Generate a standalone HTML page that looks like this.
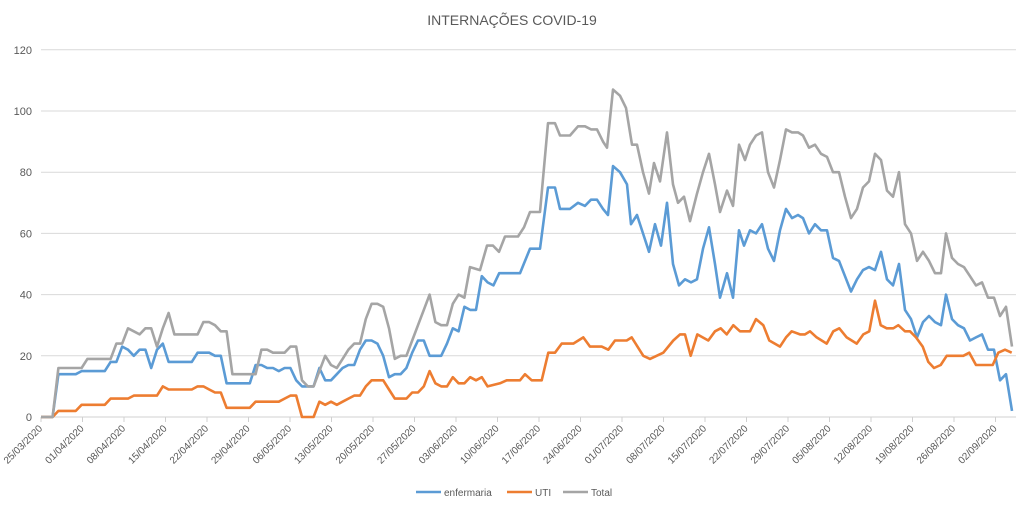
<!DOCTYPE html>
<html><head><meta charset="utf-8"><style>
body{margin:0;background:#fff;}
svg{display:block;font-family:"Liberation Sans",Arial,sans-serif;}
</style></head><body>
<svg id="s" width="1024" height="506" xmlns="http://www.w3.org/2000/svg">
<rect width="1024" height="506" fill="#fff"/>
<text x="512" y="25" text-anchor="middle" font-size="14" fill="#595959">INTERNAÇÕES COVID-19</text>
<g id="grid"></g>
<g id="lines" fill="none" stroke-width="2.6" stroke-linejoin="round"></g>
<g font-size="10" fill="#595959">
<line x1="416" y1="492" x2="441" y2="492" stroke="#5b9bd5" stroke-width="2.6"/><text x="444" y="496">enfermaria</text>
<line x1="507" y1="492" x2="532" y2="492" stroke="#ed7d31" stroke-width="2.6"/><text x="535" y="496">UTI</text>
<line x1="563" y1="492" x2="588" y2="492" stroke="#a5a5a5" stroke-width="2.6"/><text x="591" y="496">Total</text>
</g>
</svg>
<script>
const NS="http://www.w3.org/2000/svg";
const g=document.getElementById('grid'),L=document.getElementById('lines');
function el(t,a,p,txt){const e=document.createElementNS(NS,t);for(const k in a)e.setAttribute(k,a[k]);if(txt)e.textContent=txt;p.appendChild(e);return e;}
const Y=v=>417-v*3.06;
for(let v=0;v<=120;v+=20){
 el('line',{x1:41,x2:1016,y1:Y(v),y2:Y(v),stroke:v==0?'#d0d0d0':'#d9d9d9','stroke-width':1},g);
 el('text',{x:32,y:Y(v)+4,'text-anchor':'end','font-size':11,fill:'#595959'},g,String(v));
}
const dates=["25/03","01/04","08/04","15/04","22/04","29/04","06/05","13/05","20/05","27/05","03/06","10/06","17/06","24/06","01/07","08/07","15/07","22/07","29/07","05/08","12/08","19/08","26/08","02/09"];
dates.forEach((d,i)=>{const x=41+i*41.5;
 el('line',{x1:x,x2:x,y1:417,y2:422,stroke:'#d0d0d0'},g);
 el('text',{x:x+2,y:429,'text-anchor':'end','font-size':10,fill:'#595959',transform:`rotate(-45 ${x+2} 429)`},g,d+"/2020");
});
function D(a){return a.map((v,i)=>[41+i*5.8,v]);}
function P(a){const r=[];for(let i=0;i<a.length;i+=2)r.push([a[i],a[i+1]]);return r;}
const enfE=D([0,0,0,14,14,14,14,15,15,15,15,15,18,18,23,22,20,22,22,16,22,24,18,18,18,18,18,21,21,21,20,20,11,11,11,11,11,17,17,16,16,15,16,16,12,10,10,10,16,12,12,14,16,17,17,22,25,25,24,20,13,14,14,16,21,25,25,20,20,20,24,29,28,36,35,35,46,44,43,47]);
const enfL=P([520,47,530,55,540,55,548,75,555,75,560,68,570,68,578,70,585,69,591,71,597,71,603,68,608,66,613,82,620,80,627,76,631,63,637,66,643,60,649,54,655,63,661,56,667,70,673,50,679,43,685,45,691,44,697,45,703,55,709,62,715,50,720,39,727,47,733,39,739,61,744,56,750,61,756,60,762,63,768,55,774,51,780,61,786,68,792,65,798,66,803,65,809,60,815,63,821,61,827,61,833,52,839,51,845,46,851,41,857,45,863,48,869,49,875,48,881,54,887,45,893,43,899,50,905,35,911,32,917,26,923,31,929,33,935,31,941,30,946,40,952,32,958,30,964,29,970,25,976,26,982,27,988,22,994,22,1000,12,1006,14,1012,2]);
const utiE=D([0,0,0,2,2,2,2,4,4,4,4,4,6,6,6,6,7,7,7,7,7,10,9,9,9,9,9,10,10,9,8,8,3,3,3,3,3,5,5,5,5,5,6,7,7,0,0,0,5,4,5,4,5,6,7,7,10,12,12,12,9,6,6,6,8,8,10,15,11,10,10,13,11,11,13,12,13,10]);
const utiZ=[0,11,20,12,60,12,75,14,95,12,125,12,145,21,165,21,185,24,220,24,250,26,270,23,305,23,325,22,345,25,380,25,395,26,430,20,450,19,490,21,520,25,540,27,555,27,572,20,592,27,625,25,645,28,662,29,680,27,700,30,720,28,750,28,768,32,790,30,808,25,840,23,858,26,875,28,900,27,915,27,930,28,950,26,980,24,1000,28,1018,29,1040,26,1070,24,1090,27,1108,28,1125,38,1142,30,1160,29,1180,29,1195,30,1215,28,1230,28,1248,26,1268,23,1285,18,1302,16,1322,17,1340,20,1360,20,1390,20,1408,21,1428,17,1478,17,1495,21,1515,22,1535,21];
const utiL=[];for(let i=0;i<utiZ.length;i+=2)utiL.push([500+utiZ[i]/3,utiZ[i+1]]);
const totE=D([0,0,0,16,16,16,16,16,19,19,19,19,19,24,24,29,28,27,29,29,23,29,34,27,27,27,27,27,31,31,30,28,28,14,14,14,14,14,22,22,21,21,21,23,23,12,10,10,15,20,17,16,19,22,24,24,32,37,37,36,29,19,20,20,25,30,35,40,31,30,30,37,40,39]);
const totL=P([470,49,480,48,487,56,493,56,499,54,505,59,512,59,518,59,524,62,530,67,540,67,548,96,555,96,560,92,570,92,578,95,585,95,591,94,597,94,603,90,607,88,613,107,620,105,626,101,632,89,637,89,643,80,649,73,654,83,660,77,667,93,673,76,678,70,684,72,690,64,697,73,703,80,709,86,715,76,720,67,727,74,733,69,739,89,745,84,750,89,756,92,762,93,768,80,774,75,780,84,786,94,792,93,798,93,803,92,809,88,815,89,821,86,827,85,833,80,839,80,845,72,851,65,857,68,863,75,869,77,875,86,881,84,887,74,893,72,899,80,905,63,911,60,917,51,923,54,929,51,935,47,941,47,946,60,952,52,958,50,964,49,970,46,976,43,982,44,988,39,994,39,1000,33,1006,36,1012,23]);
function path(pts,c){el('path',{d:'M'+pts.map(p=>p[0].toFixed(1)+','+Y(p[1]).toFixed(1)).join('L'),stroke:c},L);}
path(enfE.concat(enfL),'#5b9bd5');
path(utiE.concat(utiL),'#ed7d31');
path(totE.concat(totL),'#a5a5a5');
</script>
</body></html>
